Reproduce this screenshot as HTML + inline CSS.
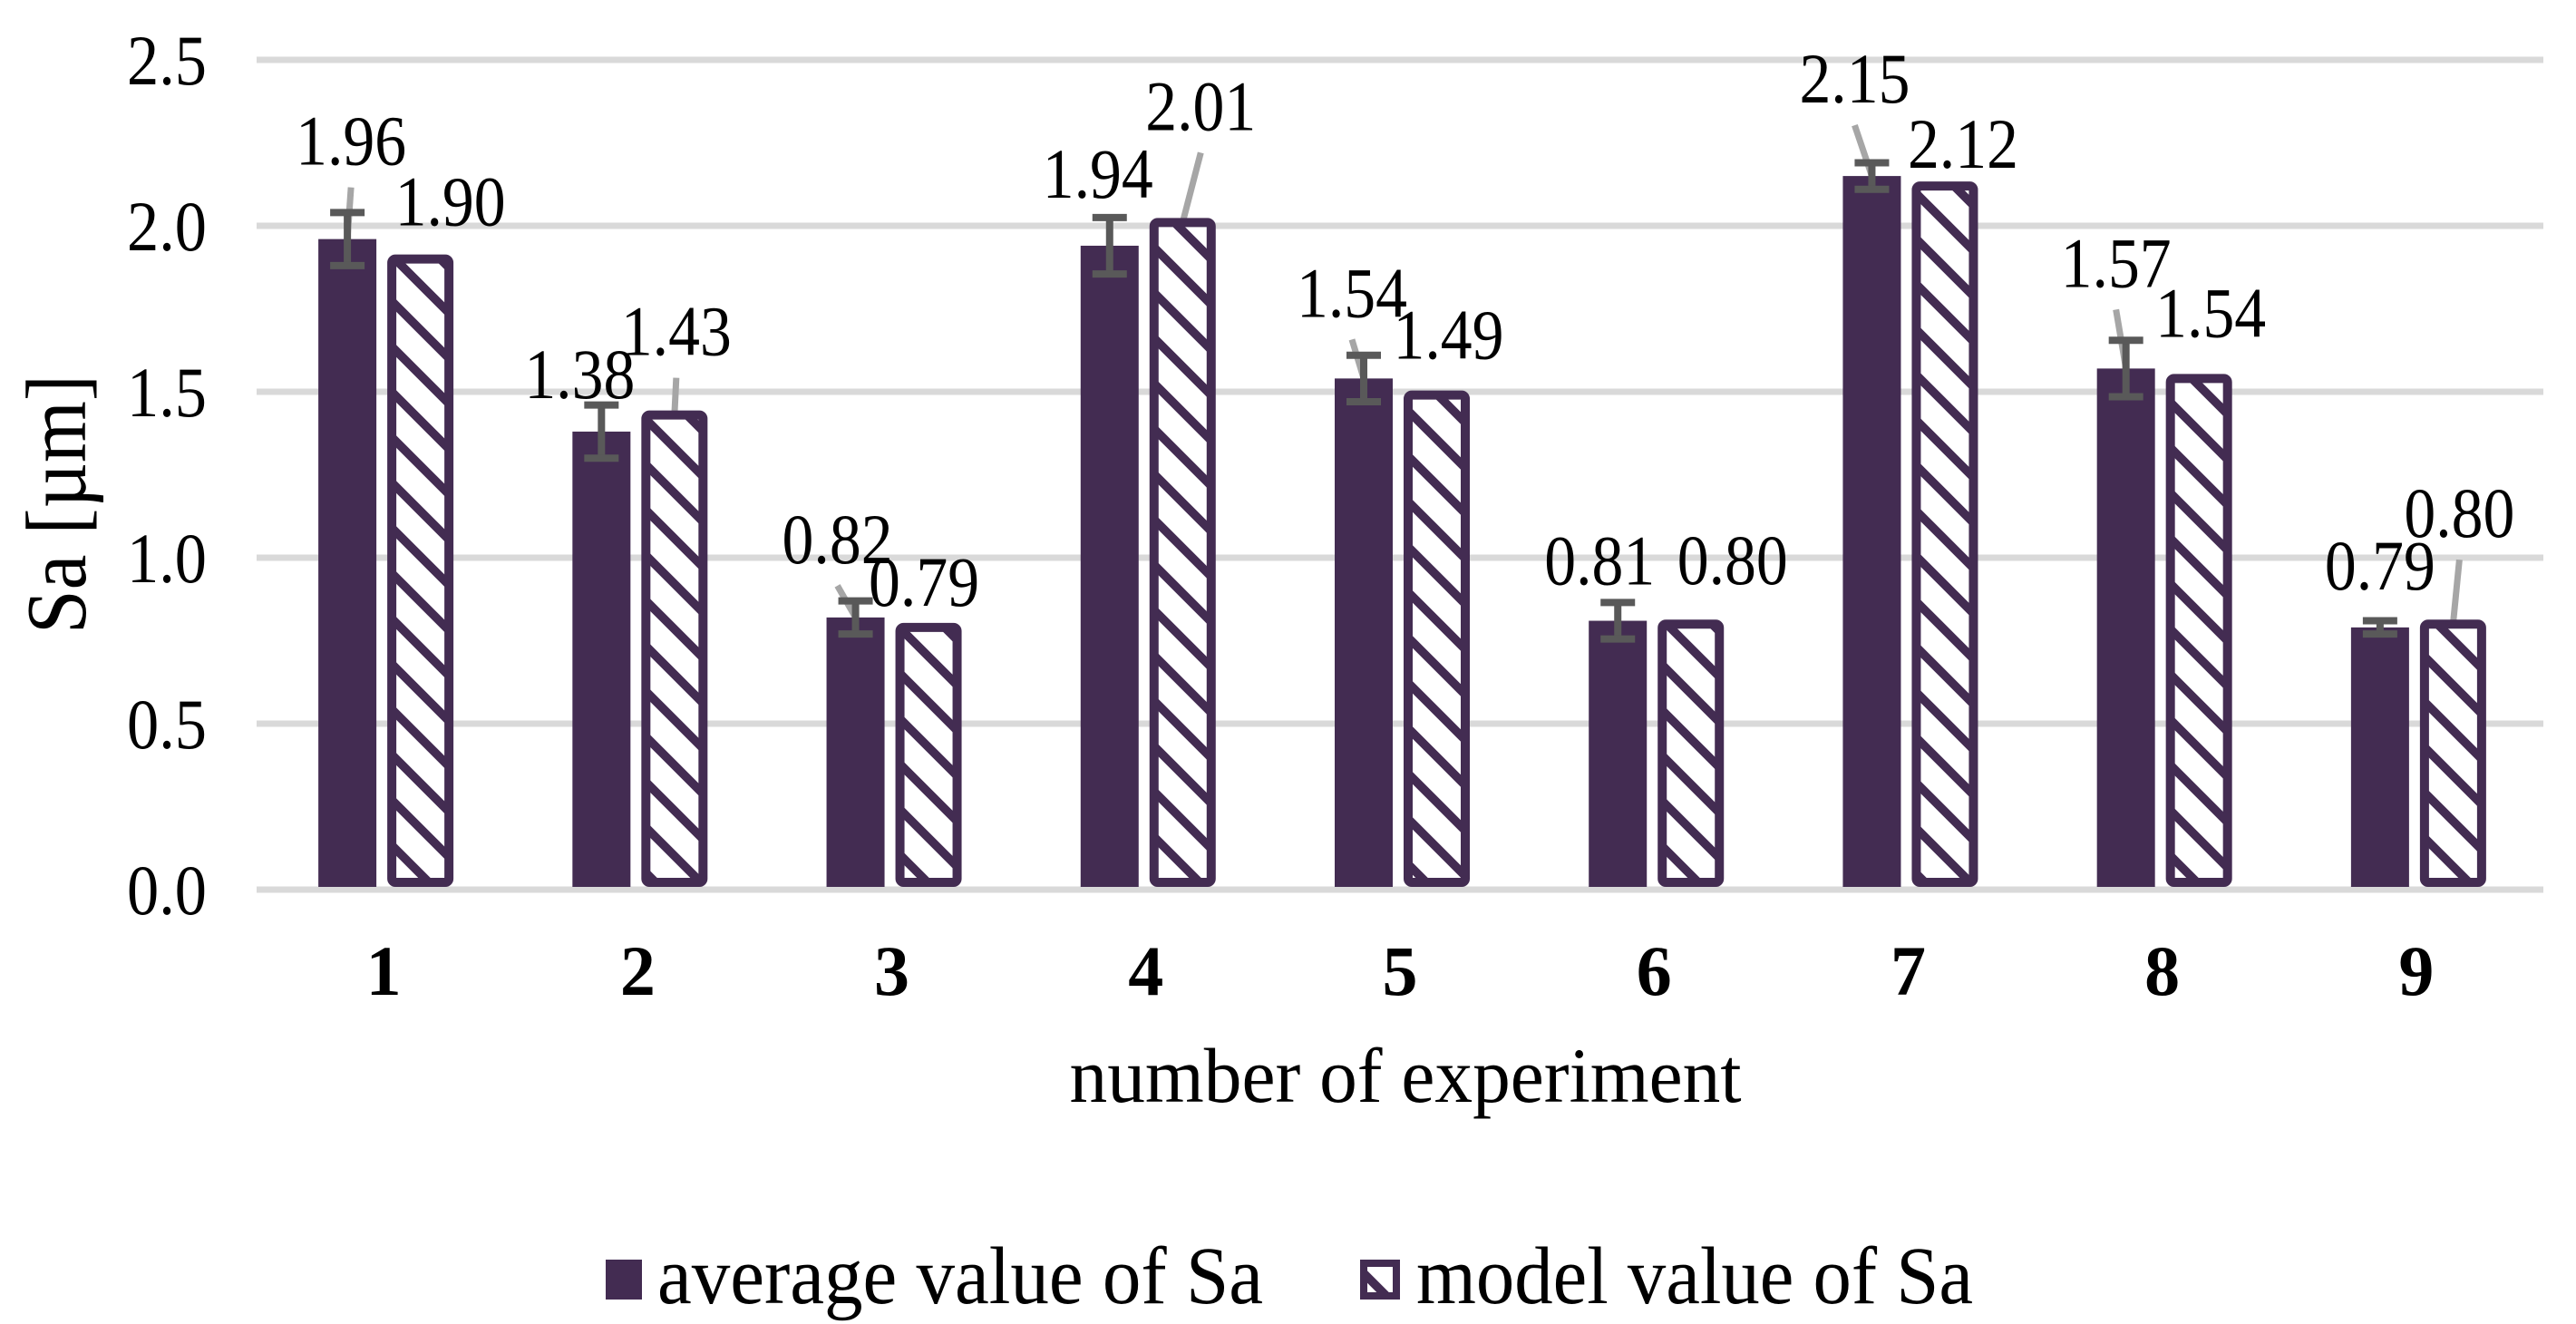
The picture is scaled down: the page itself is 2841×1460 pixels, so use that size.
<!DOCTYPE html>
<html><head><meta charset="utf-8">
<style>
html,body{margin:0;padding:0;background:#fff;}
svg{display:block;}
text{font-family:"Liberation Serif","DejaVu Serif",serif;fill:#000;}
</style></head>
<body>
<svg id="chart" width="2841" height="1460" viewBox="0 0 2841 1460" xmlns="http://www.w3.org/2000/svg">
<defs>
<pattern id="hatch" patternUnits="userSpaceOnUse" width="50" height="50">
<rect width="50" height="50" fill="#fff"/>
<path d="M-10,-10 L60,60 M-10,40 L10,60 M40,-10 L60,10" stroke="#432c52" stroke-width="9.5"/>
</pattern>
</defs>
<g id="grid"></g>
<g id="yticks"></g>
<g id="leaders"></g>
<g id="bars"></g>
<g id="errs"></g>
<g id="labels"></g>
<g id="xticks"></g>
<text transform="translate(94,556) rotate(-90) scale(1,1.12)" text-anchor="middle" font-size="84" textLength="286" lengthAdjust="spacingAndGlyphs">Sa [µm]</text>
<text x="1550" y="1215" text-anchor="middle" font-size="86" textLength="741" lengthAdjust="spacingAndGlyphs">number of experiment</text>
<g>
<g>
<rect x="668" y="1389" width="40" height="44" fill="#432c52"/>
<text x="725" y="1437" font-size="90" textLength="668" lengthAdjust="spacingAndGlyphs">average value of Sa</text>
</g>
<g>
<rect x="1504" y="1393" width="36" height="36" fill="url(#hatch)" stroke="#432c52" stroke-width="8"/>
<text x="1562" y="1437" font-size="90" textLength="614" lengthAdjust="spacingAndGlyphs">model value of Sa</text>
</g>
</g>
</svg>
<script>
const categories = ["1","2","3","4","5","6","7","8","9"];
const avgValues = [1.96,1.38,0.82,1.94,1.54,0.81,2.15,1.57,0.79];
const modelValues = [1.90,1.43,0.79,2.01,1.49,0.80,2.12,1.54,0.80];
const avgErrors = [0.08,0.08,0.05,0.085,0.07,0.055,0.04,0.085,0.02];
const yTicks = [0,0.5,1.0,1.5,2.0,2.5];
const yTickLabels = ["0.0","0.5","1.0","1.5","2.0","2.5"];

// layout (not data)
const avgLabelOff = [[4,-109],[-24,-64],[-20,-87],[-13,-80],[-13,-95],[-20,-67],[-19,-108],[-11,-117],[0,-69]];
const modelLabelOff = [[33,-64],[2,-93],[-5,-51],[20,-129],[13,-67],[46,-71],[20,-47],[13,-73],[7,-123]];
const avgLeader = [true,false,true,false,true,false,true,true,false];
const modelLeader = [false,true,false,true,false,false,false,false,true];

const NS = "http://www.w3.org/2000/svg";
const X0 = 283, X1 = 2805, Y0 = 981, PPU = 366;
const band = (X1 - X0) / categories.length;
function y(v){ return Y0 - v * PPU; }
function xc(i){ return X0 + band * (i + 0.5); }
function mk(tag, attrs, parent){
  const e = document.createElementNS(NS, tag);
  for (const k in attrs) e.setAttribute(k, attrs[k]);
  parent.appendChild(e); return e;
}
const G = id => document.getElementById(id);

yTicks.forEach((t, i) => {
  const l = mk('line', {x1:X0, x2:X1, y1:y(t), y2:y(t), stroke:'#d9d9d9', 'stroke-width':7}, G('grid'));
  
  
  const tx = mk('text', {x:184, y:y(t)+27, 'text-anchor':'middle', 'font-size':78, textLength:88, lengthAdjust:'spacingAndGlyphs'}, G('yticks'));
  tx.textContent = yTickLabels[i];
  
  
});

categories.forEach((c, i) => {
  const cx = xc(i);
  const ax = cx - 72, aw = 64, acx = ax + aw / 2;
  const mx = cx + 9, mw = 63, mcx = mx + mw / 2;
  const at = y(avgValues[i]), mt = y(modelValues[i]);

  const ab = mk('rect', {x:ax, y:at, width:aw, height:Y0 - 3 - at, fill:'#432c52'}, G('bars'));
  
  
  const mb = mk('rect', {x:mx, y:mt, width:mw, height:Y0 - 8 - mt, rx:4, fill:'url(#hatch)', stroke:'#432c52', 'stroke-width':10}, G('bars'));
  
  

  const e = avgErrors[i];
  const eg = mk('g', {stroke:'#595959', 'stroke-width':8}, G('errs'));
  
  
  mk('line', {x1:acx, x2:acx, y1:y(avgValues[i]+e), y2:y(avgValues[i]-e)}, eg);
  mk('line', {x1:acx-19, x2:acx+19, y1:y(avgValues[i]+e), y2:y(avgValues[i]+e)}, eg);
  mk('line', {x1:acx-19, x2:acx+19, y1:y(avgValues[i]-e), y2:y(avgValues[i]-e)}, eg);

  const alx = acx + avgLabelOff[i][0], aly = at + avgLabelOff[i][1];
  const mlx = mcx + modelLabelOff[i][0], mly = mt + modelLabelOff[i][1];
  if (avgLeader[i]) {
    const ll = mk('line', {x1:alx, y1:aly+52, x2:acx, y2:at, stroke:'#a6a6a6', 'stroke-width':7}, G('leaders'));
    
    
  }
  if (modelLeader[i]) {
    const ll = mk('line', {x1:mlx, y1:mly+52, x2:mcx, y2:mt, stroke:'#a6a6a6', 'stroke-width':7}, G('leaders'));
    
    
  }
  const at1 = mk('text', {x:alx, y:aly+27, 'text-anchor':'middle', 'font-size':78, textLength:122, lengthAdjust:'spacingAndGlyphs'}, G('labels'));
  at1.textContent = avgValues[i].toFixed(2);
  
  
  const mt1 = mk('text', {x:mlx, y:mly+27, 'text-anchor':'middle', 'font-size':78, textLength:122, lengthAdjust:'spacingAndGlyphs'}, G('labels'));
  mt1.textContent = modelValues[i].toFixed(2);
  
  

  const xt = mk('text', {x:cx, y:1097, 'text-anchor':'middle', 'font-size':78, 'font-weight':'bold'}, G('xticks'));
  xt.textContent = c;
  
  
});
</script>
</body></html>
